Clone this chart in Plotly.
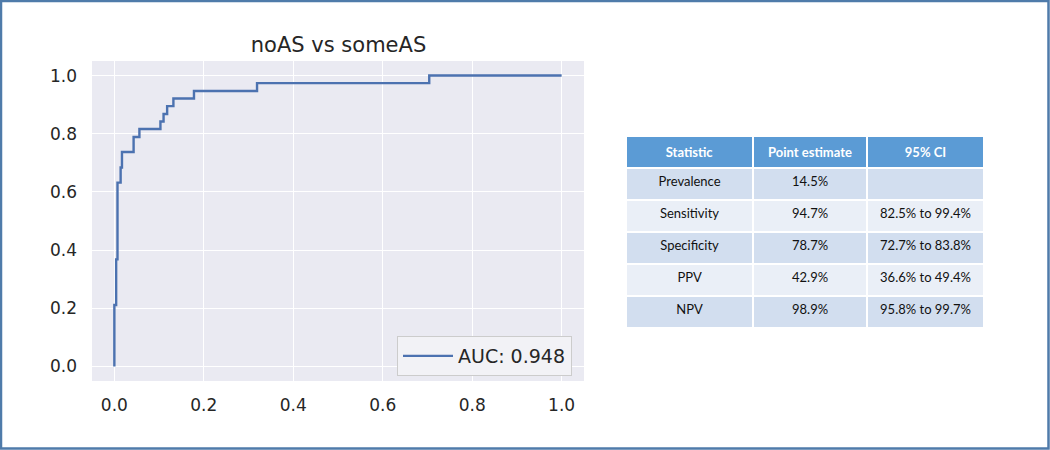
import plotly.graph_objects as go

# ROC curve corner points (false positive rate, true positive rate)
fpr = [0.0, 0.0, 0.004, 0.007, 0.014, 0.017, 0.043, 0.056, 0.103, 0.110, 0.118, 0.132, 0.178, 0.319, 0.704, 1.0]
tpr = [0.0, 0.211, 0.368, 0.632, 0.684, 0.737, 0.789, 0.816, 0.842, 0.868, 0.895, 0.921, 0.947, 0.974, 1.0, 1.0]
auc_label = "AUC: 0.948"
title_text = "noAS vs someAS"

# Table of statistics
table_header = ["Statistic", "Point estimate", "95% CI"]
statistics = ["Prevalence", "Sensitivity", "Specificity", "PPV", "NPV"]
point_estimates = ["14.5%", "94.7%", "78.7%", "42.9%", "98.9%"]
conf_intervals = ["", "82.5% to 99.4%", "72.7% to 83.8%", "36.6% to 49.4%", "95.8% to 99.7%"]

tick_vals = [0.0, 0.2, 0.4, 0.6, 0.8, 1.0]

W, H = 1050, 450
dark = "#262626"
blue = "#4C72B0"

fig = go.Figure()

fig.add_trace(go.Scatter(
    x=fpr, y=tpr, mode="lines", line=dict(color=blue, width=2.4, shape="hv"),
    name=auc_label, showlegend=True, hoverinfo="skip",
))

row_dark = "#D2DEEF"
row_light = "#EAEFF7"
row_fills = [row_dark if i % 2 == 0 else row_light for i in range(len(statistics))]

fig.add_trace(go.Table(
    domain=dict(x=[626 / W, 984 / W], y=[1 - 328 / H, 1 - 136 / H]),
    columnwidth=[126, 113, 116],
    header=dict(
        values=["<b>%s</b>" % h for h in table_header],
        fill_color="#5B9BD5",
        line=dict(color="white", width=2),
        font=dict(family="Lato, Open Sans, sans-serif", size=13, color="white"),
        align="center", height=27,
    ),
    cells=dict(
        values=[statistics, point_estimates, conf_intervals],
        fill_color=[row_fills, row_fills, row_fills],
        line=dict(color="white", width=2),
        font=dict(family="Lato, Open Sans, sans-serif", size=13, color="#111111"),
        align="center", height=32,
    ),
))

axis_common = dict(
    showgrid=True, gridcolor="white", gridwidth=1.3, zeroline=False,
    showline=False, ticks="", tickvals=tick_vals, tickformat=".1f",
    tickfont=dict(family="DejaVu Sans", size=17, color=dark),
)

fig.update_layout(
    width=W, height=H,
    margin=dict(l=0, r=0, t=0, b=0),
    paper_bgcolor="white",
    plot_bgcolor="#EAEAF2",
    font=dict(family="DejaVu Sans", color=dark),
    title=dict(text=title_text, x=338.5 / W, xanchor="center", y=1 - 45 / H, yanchor="middle",
               font=dict(family="DejaVu Sans", size=21, color=dark)),
    xaxis=dict(domain=[92 / W, 584 / W], range=[-0.05, 1.05], ticklabelstandoff=12, **axis_common),
    yaxis=dict(domain=[1 - 381 / H, 1 - 61 / H], range=[-0.05, 1.05], ticklabelstandoff=14, **axis_common),
    legend=dict(
        x=397 / W, y=1 - 336 / H, xanchor="left", yanchor="top",
        bgcolor="#F2F2F6", bordercolor="#CCCCCC", borderwidth=1,
        font=dict(family="DejaVu Sans", size=19, color=dark),
        itemwidth=50,
    ),
    shapes=[dict(type="rect", xref="paper", yref="paper", x0=1 / W, x1=1 - 1.5 / W, y0=1.5 / H, y1=1 - 1 / H,
                 line=dict(color="#4F7BAA", width=2.5), fillcolor="rgba(0,0,0,0)", layer="above")],
)

fig.write_html(
    "out.html",
    config={"displayModeBar": False},
    post_script="document.body.style.margin='0';document.body.style.overflow='hidden';",
)
